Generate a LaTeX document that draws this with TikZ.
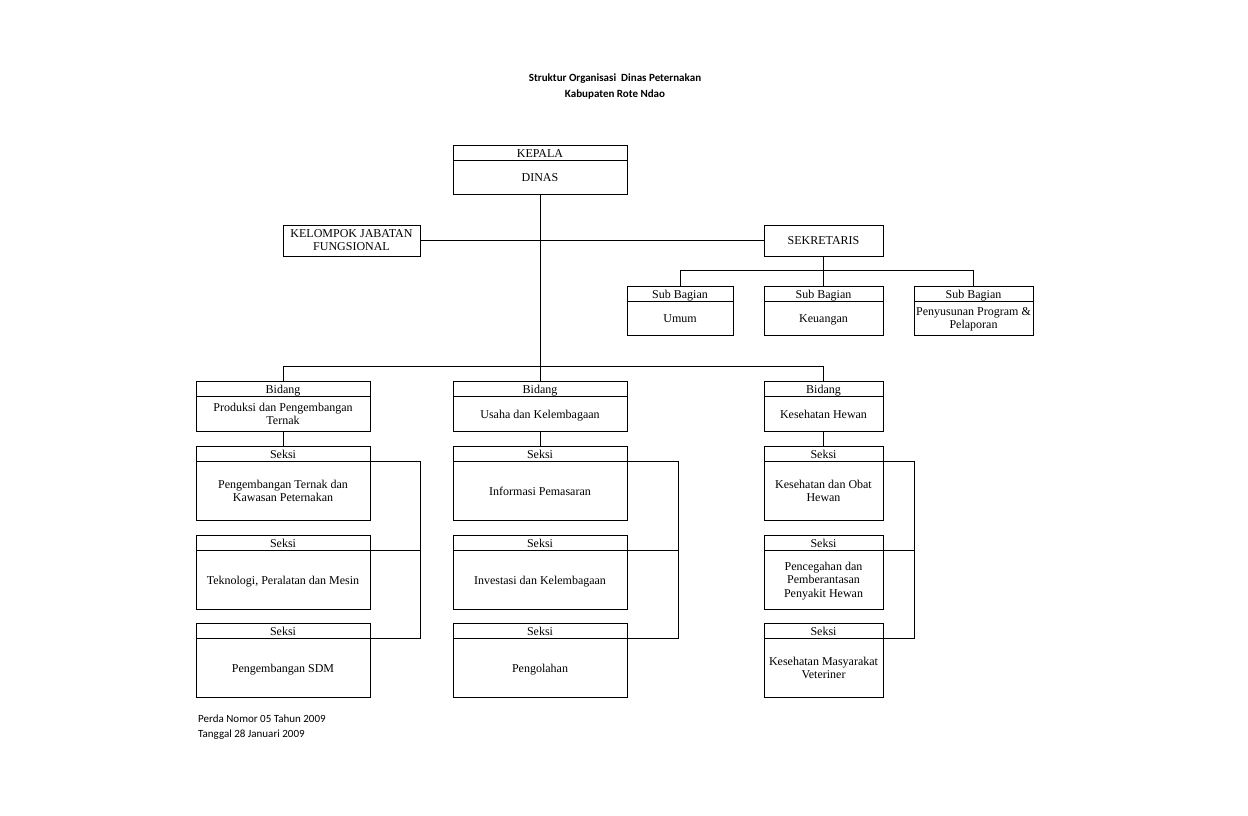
\documentclass[tikz,border=0pt]{standalone}
\usepackage{fontspec}
\setmainfont{Liberation Serif}
\newfontfamily\calibri{Carlito}

\tikzset{
  unitbox/.style={draw,line width=0.9pt,anchor=north west,inner sep=0pt,outer sep=0pt},
  unittext/.style={align=center,inner sep=0pt,font=\fontsize{12}{13.5}\selectfont,
    execute at begin node=\strut,execute at end node=\strut},
  link/.style={line width=0.9pt},
  note/.style={inner sep=0pt,font=\calibri\fontsize{11}{15}\selectfont}
}

% unit with a header band: name, x, y, width, height, header, body
\newcommand{\orgunit}[7]{%
  \node[unitbox,minimum width=#4pt,minimum height=#5pt] (#1) at (#2,#3) {};
  \coordinate (#1-sep) at ([yshift=-15.5pt]#1.north east);
  \draw[link] ([yshift=-15.5pt]#1.north west) -- (#1-sep);
  \node[unittext] at ([yshift=-9.75pt]#1.north) {#6};
  \node[unittext] at ([yshift=-9.75pt]#1.center) {#7};
}

\begin{document}
\begin{tikzpicture}[x=1pt,y=-1pt]
\useasboundingbox (0,0) rectangle (1248,816);

\node[note,align=center,font=\calibri\bfseries\fontsize{11}{16}\selectfont] (title) at (615,87)
  {Struktur Organisasi~ Dinas Peternakan\\Kabupaten Rote Ndao};

% top
\orgunit{kepala}{453}{145}{174}{49}{KEPALA}{DINAS}
\node[unitbox,minimum width=137pt,minimum height=31pt] (kelompok) at (283,225) {};
\node[unittext] at ([yshift=-1.5pt]kelompok.center) {KELOMPOK JABATAN\\FUNGSIONAL};
\node[unitbox,minimum width=119pt,minimum height=31pt] (sekretaris) at (764,225) {};
\node[unittext] at ([yshift=-1.5pt]sekretaris.center) {SEKRETARIS};

% sub bagian
\orgunit{sub-umum}{627}{286}{106}{49}{Sub Bagian}{Umum}
\orgunit{sub-keu}{764}{286}{119}{49}{Sub Bagian}{Keuangan}
\orgunit{sub-pp}{914}{286}{119}{49}{Sub Bagian}{Penyusunan Program \&\\Pelaporan}

% bidang
\orgunit{bidang-p}{196}{381}{174}{50}{Bidang}{Produksi dan Pengembangan\\Ternak}
\orgunit{bidang-u}{453}{381}{174}{50}{Bidang}{Usaha dan Kelembagaan}
\orgunit{bidang-k}{764}{381}{119}{50}{Bidang}{Kesehatan Hewan}

% seksi
\orgunit{seksi-p1}{196}{446}{174}{74}{Seksi}{Pengembangan Ternak dan\\Kawasan Peternakan}
\orgunit{seksi-p2}{196}{535}{174}{74}{Seksi}{Teknologi, Peralatan dan Mesin}
\orgunit{seksi-p3}{196}{623}{174}{74}{Seksi}{Pengembangan SDM}
\orgunit{seksi-u1}{453}{446}{174}{74}{Seksi}{Informasi Pemasaran}
\orgunit{seksi-u2}{453}{535}{174}{74}{Seksi}{Investasi dan Kelembagaan}
\orgunit{seksi-u3}{453}{623}{174}{74}{Seksi}{Pengolahan}
\orgunit{seksi-k1}{764}{446}{119}{74}{Seksi}{Kesehatan dan Obat\\Hewan}
\orgunit{seksi-k2}{764}{535}{119}{74}{Seksi}{Pencegahan dan\\Pemberantasan\\Penyakit Hewan}
\orgunit{seksi-k3}{764}{623}{119}{74}{Seksi}{Kesehatan Masyarakat\\Veteriner}

% connectors
\draw[link] (kepala.south) -- (bidang-u.north);
\draw[link] (kelompok.east) -- (sekretaris.west);
\draw[link] (sekretaris.south) -- (sub-keu.north);
\draw[link] (sub-umum.north) -- ++(0,-16) -| (sub-pp.north);
\draw[link] (bidang-p.north) -- ++(0,-15) -| (bidang-k.north);
\foreach \c/\d in {p/50,u/51,k/31} {
  \draw[link] (bidang-\c.south) -- (seksi-\c1.north);
  \draw[link] (seksi-\c1-sep) -- ++(\d,0) |- (seksi-\c3-sep);
  \draw[link] (seksi-\c2-sep) -- ++(\d,0);
}

\node[note,align=left,anchor=north west] (perda) at (198,715)
  {Perda Nomor 05 Tahun 2009\\Tanggal 28 Januari 2009};
\end{tikzpicture}
\end{document}
